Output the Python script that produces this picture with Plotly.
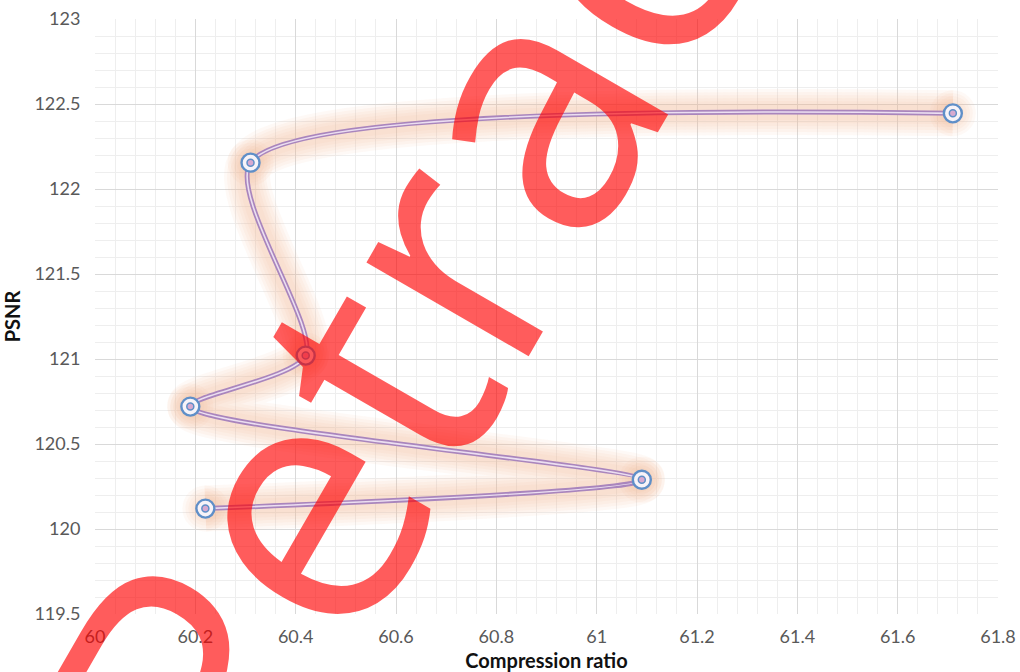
import plotly.graph_objects as go

# Compression ratio vs PSNR, connected in measurement order
compression_ratio = [60.22, 61.09, 60.19, 60.42, 60.31, 61.71]
psnr = [120.12, 120.29, 120.72, 121.02, 122.155, 122.445]

x_ticks = [60, 60.2, 60.4, 60.6, 60.8, 61, 61.2, 61.4, 61.6, 61.8]
y_ticks = [119.5, 120, 120.5, 121, 121.5, 122, 122.5, 123]

watermark_text = "Petrac"

SMOOTH = 0.7
TICK_FONT = dict(family="Lato, Open Sans, sans-serif", size=18, color="#595959")
TITLE_FONT = dict(family="Lato, Open Sans, sans-serif", size=20, color="#111111", weight="bold")
GLOW = "rgba(246,190,152,0.085)"

fig = go.Figure()

# soft peach glow under the curve, built from layered translucent strokes
for w in (46, 40, 34, 28, 22, 16):
    fig.add_trace(go.Scatter(
        x=compression_ratio, y=psnr, mode="lines",
        line=dict(shape="spline", smoothing=SMOOTH, width=w, color=GLOW),
        hoverinfo="skip", showlegend=False,
    ))
for s in (46, 40, 34, 28, 22):
    fig.add_trace(go.Scatter(
        x=compression_ratio, y=psnr, mode="markers",
        marker=dict(size=s, color=GLOW, line=dict(width=0)),
        hoverinfo="skip", showlegend=False,
    ))

# double (compound) purple line
fig.add_trace(go.Scatter(
    x=compression_ratio, y=psnr, mode="lines",
    line=dict(shape="spline", smoothing=SMOOTH, width=5, color="#a985bd"),
    hoverinfo="skip", showlegend=False,
))
fig.add_trace(go.Scatter(
    x=compression_ratio, y=psnr, mode="lines",
    line=dict(shape="spline", smoothing=SMOOTH, width=1.6, color="#ecdff1"),
    hoverinfo="skip", showlegend=False,
))

# ring markers with a small centre dot
fig.add_trace(go.Scatter(
    x=compression_ratio, y=psnr, mode="markers",
    marker=dict(size=18, color="#f7f3f8", line=dict(width=2.4, color="#5f8fc8")),
    showlegend=False,
))
fig.add_trace(go.Scatter(
    x=compression_ratio, y=psnr, mode="markers",
    marker=dict(size=7, color="#d7a9cf", line=dict(width=1.5, color="#5f8fc8")),
    showlegend=False,
))

fig.add_annotation(
    text=watermark_text, xref="paper", yref="paper", x=0.3256, y=0.484,
    xanchor="center", yanchor="middle", showarrow=False, textangle=-60,
    font=dict(family="Open Sans, sans-serif", size=350, color="rgba(255,0,0,0.64)"),
)

fig.update_layout(
    width=1020, height=672,
    margin=dict(l=95, r=22, t=19, b=58),
    paper_bgcolor="white", plot_bgcolor="white",
    showlegend=False,
)

fig.update_xaxes(
    range=[60, 61.8], tickvals=x_ticks, ticktext=[f"{v:g}" for v in x_ticks],
    showgrid=True, gridcolor="#d9d9d9", gridwidth=1,
    minor=dict(dtick=0.04, tick0=60, showgrid=True, gridcolor="#eeeeee", gridwidth=1),
    zeroline=False, showline=False,
    ticks="outside", ticklen=6, tickcolor="rgba(0,0,0,0)",
    tickfont=TICK_FONT,
    title=dict(text="Compression ratio", font=TITLE_FONT, standoff=8),
    automargin=False,
)
fig.update_yaxes(
    range=[119.5, 123], tickvals=y_ticks, ticktext=[f"{v:g}" for v in y_ticks],
    showgrid=True, gridcolor="#d9d9d9", gridwidth=1,
    minor=dict(dtick=0.1, tick0=119.5, showgrid=True, gridcolor="#eeeeee", gridwidth=1),
    zeroline=False, showline=False,
    ticks="outside", ticklen=10, tickcolor="rgba(0,0,0,0)",
    tickfont=TICK_FONT,
    title=dict(text="PSNR", font=TITLE_FONT, standoff=15),
    automargin=False,
)

fig.write_html("out.html")
